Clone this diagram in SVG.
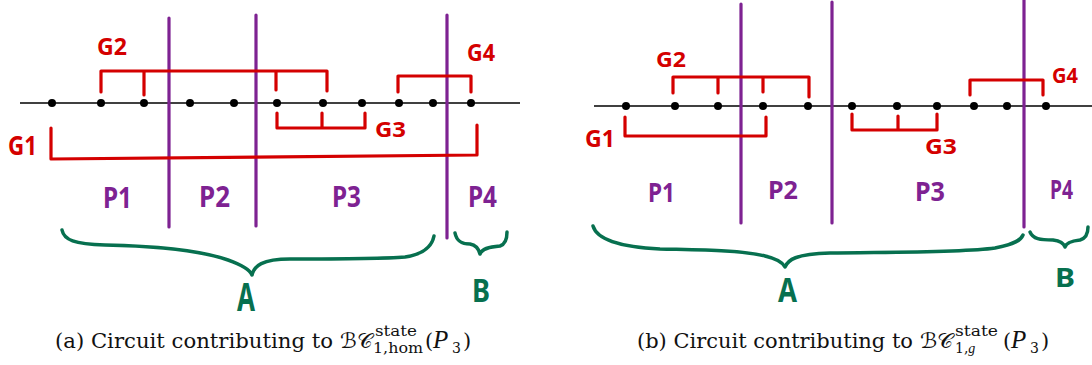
<svg xmlns="http://www.w3.org/2000/svg" width="1092" height="365" viewBox="0 0 1092 365">
<style>
.axis{stroke:#000;stroke-width:1.5;fill:none}
.dot{fill:#000}
.part{stroke:#7e2292;stroke-width:3.2;stroke-linecap:round;fill:none}
.grp{stroke:#d40000;stroke-width:3.2;stroke-linecap:round;stroke-linejoin:round;fill:none}
.brace{stroke:#07704f;stroke-width:3.5;stroke-linecap:round;stroke-linejoin:round;fill:none}
.lr{fill:#d40000;font-family:"Noto Sans","DejaVu Sans",sans-serif;font-weight:700}
.lp{fill:#7e2292;font-family:"Noto Sans","DejaVu Sans",sans-serif;font-weight:700}
.lg{fill:#07704f;font-family:"Noto Sans","DejaVu Sans",sans-serif;font-weight:700}
.cap{fill:#111;font-family:"DejaVu Serif","Liberation Serif",serif;font-size:21px}
.math{fill:#111;font-family:"DejaVu Serif","DejaVu Sans","Noto Sans",serif;font-size:21px}
.it{font-family:"Liberation Serif",serif;font-style:italic}
.sm{font-size:14px}
.bigp{font-size:25px}
</style>

<!-- Panel (a) -->
<g id="panel-a">
  <g id="a-connectors">
    <line class="axis" x1="20" y1="103" x2="520" y2="103"/>
    <line class="part" x1="169" y1="18" x2="169" y2="227"/>
    <line class="part" x1="256" y1="15" x2="256" y2="226"/>
    <line class="part" x1="447" y1="15" x2="447" y2="238"/>
    <path class="grp" d="M101,92 V71 H327 V91 M144,71 V95 M276,71 V90"/>
    <path class="grp" d="M51,128 V159 L477,155 V125"/>
    <path class="grp" d="M277,113 V128 H365 V113 M322,113 V128"/>
    <path class="grp" d="M398,92 V76 H471 V92"/>
    <path class="brace" d="M62,230 C64,240 74,244 105,245 C150,246 200,250 228,260 C242,265 250,270 252,275 C254,266 262,259 290,259 C340,259 380,259 405,257 C425,254 432,246 434,236"/>
    <path class="brace" d="M455,233 C457,243 464,244 470,244 C476,245 479,250 480,254 C482,249 488,247 500,246 C506,244 507,238 507,232"/>
  </g>
  <g id="a-dots">
    <circle class="dot" cx="52" cy="103" r="4"/>
    <circle class="dot" cx="101" cy="103" r="4"/>
    <circle class="dot" cx="144" cy="103" r="4"/>
    <circle class="dot" cx="190" cy="103" r="4"/>
    <circle class="dot" cx="234" cy="103" r="4"/>
    <circle class="dot" cx="277" cy="103" r="4"/>
    <circle class="dot" cx="323" cy="103" r="4"/>
    <circle class="dot" cx="362" cy="103" r="4"/>
    <circle class="dot" cx="399" cy="103" r="4"/>
    <circle class="dot" cx="433" cy="103" r="4"/>
    <circle class="dot" cx="471" cy="103" r="4"/>
  </g>
  <g id="a-G1"><text class="lr" x="8" y="155" font-size="27" textLength="29" lengthAdjust="spacingAndGlyphs">G1</text></g>
  <g id="a-G2"><text class="lr" x="97" y="55" font-size="23" textLength="30" lengthAdjust="spacingAndGlyphs">G2</text></g>
  <g id="a-G3"><text class="lr" x="375" y="137" font-size="21" textLength="31" lengthAdjust="spacingAndGlyphs">G3</text></g>
  <g id="a-G4"><text class="lr" x="467" y="61" font-size="23" textLength="28" lengthAdjust="spacingAndGlyphs">G4</text></g>
  <g id="a-P1"><text class="lp" x="103" y="208" font-size="29" textLength="29" lengthAdjust="spacingAndGlyphs">P1</text></g>
  <g id="a-P2"><text class="lp" x="199" y="207" font-size="28" textLength="31" lengthAdjust="spacingAndGlyphs">P2</text></g>
  <g id="a-P3"><text class="lp" x="332" y="207" font-size="28" textLength="29" lengthAdjust="spacingAndGlyphs">P3</text></g>
  <g id="a-P4"><text class="lp" x="468" y="207" font-size="28" textLength="29" lengthAdjust="spacingAndGlyphs">P4</text></g>
  <g id="a-A"><text class="lg" x="237" y="311" font-size="40" textLength="18" lengthAdjust="spacingAndGlyphs">A</text></g>
  <g id="a-B"><text class="lg" x="472" y="302" font-size="32" textLength="18" lengthAdjust="spacingAndGlyphs">B</text></g>
  <g id="a-caption">
    <text class="cap" x="55" y="348" textLength="278" lengthAdjust="spacingAndGlyphs">(a) Circuit contributing to</text>
    <text class="math" x="340" y="348" textLength="32" lengthAdjust="spacingAndGlyphs">ℬ𝒞</text>
    <text class="cap sm" x="375" y="336" textLength="42" lengthAdjust="spacingAndGlyphs">state</text>
    <text class="cap sm" x="373" y="353" textLength="50" lengthAdjust="spacingAndGlyphs">1,hom</text>
    <text class="cap" x="425" y="348">(</text>
    <text class="cap it bigp" x="433" y="348">P</text>
    <text class="cap sm" x="452" y="353">3</text>
    <text class="cap" x="463" y="348">)</text>
  </g>
</g>

<!-- Panel (b) -->
<g id="panel-b">
  <g id="b-connectors">
    <line class="axis" x1="594" y1="106" x2="1092" y2="106"/>
    <line class="part" x1="741" y1="4" x2="741" y2="223"/>
    <line class="part" x1="832" y1="2" x2="832" y2="223"/>
    <line class="part" x1="1024" y1="0" x2="1024" y2="227"/>
    <path class="grp" d="M673,93 V77 H809 V97 M718,77 V93 M763,77 V92"/>
    <path class="grp" d="M625,117 V136 H766 V117"/>
    <path class="grp" d="M852,114 V130 H937 V114 M898,116 V130"/>
    <path class="grp" d="M970,95 V80 H1043 V95"/>
    <path class="brace" d="M593,226 C597,240 620,247 660,249 C700,250 740,250 765,256 C778,259 783,263 785,267 C788,260 795,254 830,253 C880,252 960,253 995,248 C1015,244 1021,240 1023,235"/>
    <path class="brace" d="M1030,232 C1033,239 1040,240 1053,240 C1060,241 1064,244 1065,247 C1066,243 1071,241 1080,240 C1087,238 1088,232 1088,227"/>
  </g>
  <g id="b-dots">
    <circle class="dot" cx="626" cy="106" r="4"/>
    <circle class="dot" cx="675" cy="106" r="4"/>
    <circle class="dot" cx="718" cy="106" r="4"/>
    <circle class="dot" cx="763" cy="106" r="4"/>
    <circle class="dot" cx="808" cy="106" r="4"/>
    <circle class="dot" cx="852" cy="106" r="4"/>
    <circle class="dot" cx="897" cy="106" r="4"/>
    <circle class="dot" cx="937" cy="106" r="4"/>
    <circle class="dot" cx="974" cy="106" r="4"/>
    <circle class="dot" cx="1007" cy="106" r="4"/>
    <circle class="dot" cx="1046" cy="106" r="4"/>
  </g>
  <g id="b-G1"><text class="lr" x="585" y="147" font-size="24" textLength="30" lengthAdjust="spacingAndGlyphs">G1</text></g>
  <g id="b-G2"><text class="lr" x="656" y="67" font-size="21" textLength="30" lengthAdjust="spacingAndGlyphs">G2</text></g>
  <g id="b-G3"><text class="lr" x="925" y="154" font-size="22" textLength="32" lengthAdjust="spacingAndGlyphs">G3</text></g>
  <g id="b-G4"><text class="lr" x="1052" y="83" font-size="21" textLength="26" lengthAdjust="spacingAndGlyphs">G4</text></g>
  <g id="b-P1"><text class="lp" x="648" y="202" font-size="27" textLength="27" lengthAdjust="spacingAndGlyphs">P1</text></g>
  <g id="b-P2"><text class="lp" x="768" y="199" font-size="25" textLength="30" lengthAdjust="spacingAndGlyphs">P2</text></g>
  <g id="b-P3"><text class="lp" x="915" y="201" font-size="26" textLength="30" lengthAdjust="spacingAndGlyphs">P3</text></g>
  <g id="b-P4"><text class="lp" x="1050" y="199" font-size="26" textLength="23" lengthAdjust="spacingAndGlyphs">P4</text></g>
  <g id="b-A"><text class="lg" x="778" y="302" font-size="34" textLength="19" lengthAdjust="spacingAndGlyphs">A</text></g>
  <g id="b-B"><text class="lg" x="1055" y="287" font-size="27" textLength="20" lengthAdjust="spacingAndGlyphs">B</text></g>
  <g id="b-caption">
    <text class="cap" x="637" y="348" textLength="276" lengthAdjust="spacingAndGlyphs">(b) Circuit contributing to</text>
    <text class="math" x="920" y="348" textLength="33" lengthAdjust="spacingAndGlyphs">ℬ𝒞</text>
    <text class="cap sm" x="955" y="336" textLength="43" lengthAdjust="spacingAndGlyphs">state</text>
    <text class="cap sm" x="955" y="353">1,<tspan class="it">g</tspan></text>
    <text class="cap" x="1003" y="348">(</text>
    <text class="cap it bigp" x="1011" y="348">P</text>
    <text class="cap sm" x="1030" y="353">3</text>
    <text class="cap" x="1041" y="348">)</text>
  </g>
</g>
</svg>
